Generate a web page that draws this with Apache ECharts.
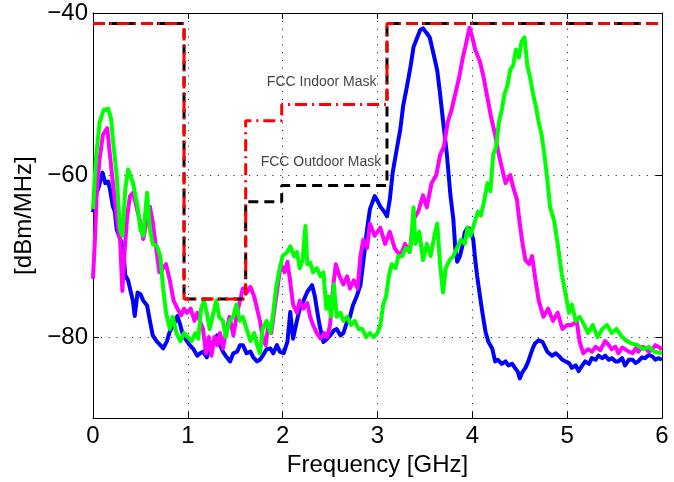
<!DOCTYPE html>
<html><head><meta charset="utf-8">
<script src="https://cdn.jsdelivr.net/npm/echarts@6/dist/echarts.min.js"></script>
<style>html,body{margin:0;padding:0;background:#fff}#c{width:674px;height:482px}</style>
</head><body><div id="c"></div>
<script>
// ---------- data (GHz, dBm/MHz) ----------
const xTicks = [0, 1, 2, 3, 4, 5, 6];
const yTicks = [-80, -60, -40];

const blueSeries = [[0,-64.6],[0.03,-62.5],[0.06,-61.5],[0.1,-59.7],[0.13,-61],[0.16,-60.8],[0.18,-61.8],[0.21,-63.9],[0.23,-64.5],[0.25,-66.7],[0.29,-68],[0.32,-69.1],[0.34,-72.4],[0.37,-73],[0.39,-74],[0.42,-75.5],[0.44,-77.4],[0.47,-74.5],[0.5,-74.7],[0.53,-75.5],[0.57,-76.1],[0.6,-78],[0.63,-79.8],[0.67,-80.5],[0.71,-81.0],[0.74,-81.4],[0.78,-80.5],[0.81,-79.3],[0.85,-78.5],[0.89,-77.4],[0.92,-78.5],[0.95,-79.8],[0.99,-80.5],[1.02,-81],[1.06,-81.5],[1.10,-82.3],[1.13,-82],[1.16,-81.8],[1.2,-82.5],[1.23,-81.4],[1.27,-80.5],[1.31,-79.8],[1.34,-81],[1.37,-81.8],[1.41,-82.5],[1.445,-83],[1.48,-82],[1.52,-81.8],[1.55,-81],[1.58,-81],[1.62,-82],[1.66,-81.8],[1.69,-82.5],[1.73,-83],[1.76,-82.8],[1.79,-82.3],[1.83,-81.5],[1.87,-81.4],[1.90,-82],[1.94,-81],[1.97,-81.8],[2.01,-82],[2.05,-80.6],[2.08,-76.9],[2.11,-80.2],[2.15,-78],[2.18,-76.5],[2.22,-75.5],[2.26,-74.4],[2.31,-73.6],[2.34,-75],[2.36,-76.5],[2.39,-78.6],[2.43,-80.6],[2.47,-80.2],[2.50,-79.8],[2.54,-79.2],[2.57,-79],[2.61,-79.8],[2.64,-79.5],[2.68,-78.1],[2.71,-77.5],[2.74,-76.1],[2.78,-75],[2.82,-73.6],[2.85,-70.7],[2.89,-66.7],[2.92,-64.2],[2.97,-62.6],[3.0,-63.2],[3.03,-63.9],[3.07,-64.5],[3.10,-65.1],[3.13,-63],[3.16,-59.7],[3.20,-57],[3.24,-54.4],[3.27,-51.5],[3.31,-49.1],[3.35,-46.5],[3.38,-44.2],[3.42,-43],[3.45,-42.1],[3.48,-41.9],[3.52,-42.5],[3.55,-43],[3.59,-45],[3.63,-47.1],[3.66,-50],[3.69,-53.2],[3.73,-57.3],[3.77,-62.6],[3.80,-65.5],[3.82,-69],[3.84,-70.7],[3.87,-70],[3.90,-68.5],[3.92,-67.1],[3.95,-66.5],[3.98,-66.7],[4.01,-68],[4.03,-70.4],[4.05,-72.4],[4.08,-74.9],[4.10,-76.5],[4.12,-78],[4.14,-79.4],[4.17,-80.6],[4.21,-81.4],[4.24,-83],[4.27,-82.8],[4.31,-83.3],[4.35,-83],[4.38,-83.5],[4.42,-83.3],[4.45,-83.8],[4.48,-84.3],[4.50,-85.1],[4.53,-84.3],[4.56,-83.8],[4.59,-83],[4.61,-82.3],[4.64,-81.3],[4.66,-80.8],[4.70,-80.4],[4.74,-80.6],[4.77,-81.3],[4.79,-81.8],[4.84,-82.3],[4.88,-82],[4.91,-82.3],[4.95,-82.8],[4.98,-83],[5.02,-83.2],[5.05,-83.8],[5.09,-83.5],[5.12,-84.2],[5.16,-83.5],[5.19,-83],[5.23,-83.3],[5.26,-82.6],[5.30,-82.8],[5.33,-82.3],[5.37,-82.6],[5.40,-82.3],[5.44,-82.8],[5.47,-82.6],[5.51,-83],[5.54,-83],[5.58,-82.6],[5.61,-83.5],[5.65,-82.8],[5.69,-82.8],[5.72,-83.2],[5.75,-83],[5.79,-82.5],[5.82,-82.6],[5.86,-82.2],[5.90,-82.4],[5.93,-82.8],[5.96,-82.6],[6.0,-82.8]];

const magentaSeries = [[0,-72.8],[0.02,-68],[0.04,-62],[0.07,-58],[0.105,-55],[0.15,-54.2],[0.18,-57.7],[0.21,-61],[0.25,-65.1],[0.27,-67],[0.285,-67.9],[0.31,-74.3],[0.33,-70],[0.36,-65.1],[0.39,-62.6],[0.42,-62.2],[0.44,-63],[0.47,-64.5],[0.5,-65.9],[0.53,-67.9],[0.56,-66],[0.6,-63.9],[0.63,-65.8],[0.66,-68.5],[0.7,-72],[0.74,-71.5],[0.77,-71],[0.81,-73],[0.85,-75.5],[0.89,-76.5],[0.93,-77.3],[0.96,-76.5],[0.99,-77],[1.03,-76.5],[1.07,-78],[1.10,-77],[1.13,-78.1],[1.16,-79],[1.19,-82],[1.22,-80],[1.25,-82.3],[1.28,-80],[1.31,-81],[1.34,-79.5],[1.37,-81.4],[1.41,-79],[1.44,-77.5],[1.48,-79.8],[1.52,-77],[1.55,-75.5],[1.58,-74],[1.62,-74.5],[1.66,-73.8],[1.70,-75],[1.73,-76.5],[1.76,-78],[1.79,-80],[1.82,-81],[1.85,-78.5],[1.88,-79.5],[1.92,-76],[1.95,-73.5],[1.98,-71],[2.02,-72],[2.05,-70.7],[2.08,-73.2],[2.11,-76],[2.15,-77],[2.18,-75.5],[2.22,-76.5],[2.26,-75.8],[2.29,-77.5],[2.32,-78.5],[2.36,-79.5],[2.40,-80.2],[2.44,-79.5],[2.47,-80],[2.50,-78.5],[2.53,-74],[2.56,-71],[2.60,-72.5],[2.64,-73.5],[2.68,-72.5],[2.71,-74],[2.75,-73],[2.79,-74],[2.82,-70],[2.85,-68],[2.89,-69],[2.92,-66],[2.97,-67.5],[3.03,-66.5],[3.08,-68.5],[3.13,-67],[3.18,-69],[3.24,-70],[3.29,-68.5],[3.34,-69.5],[3.38,-65.5],[3.43,-64.5],[3.48,-62.5],[3.52,-64],[3.57,-61],[3.62,-60],[3.66,-57.5],[3.70,-56.5],[3.74,-53.5],[3.78,-52],[3.82,-50],[3.86,-48],[3.90,-45.5],[3.93,-44],[3.97,-41.8],[4.0,-43],[4.03,-44.5],[4.08,-46],[4.12,-48],[4.16,-50.5],[4.20,-53],[4.24,-55],[4.28,-57.5],[4.31,-59],[4.35,-61],[4.40,-60],[4.43,-61.5],[4.47,-63],[4.50,-66],[4.53,-68.5],[4.56,-70.5],[4.60,-71],[4.63,-70],[4.66,-72.5],[4.70,-75.5],[4.75,-77.5],[4.80,-76.5],[4.85,-78],[4.90,-77],[4.95,-79],[5.0,-78.5],[5.05,-78.5],[5.10,-78],[5.13,-80.5],[5.17,-82],[5.22,-81.5],[5.26,-81.8],[5.30,-81.2],[5.35,-81.6],[5.40,-80.5],[5.44,-81],[5.47,-81.5],[5.51,-81.2],[5.54,-82],[5.58,-81.3],[5.61,-81.5],[5.65,-81.8],[5.69,-82],[5.72,-81.4],[5.75,-81.8],[5.79,-81.2],[5.82,-81.3],[5.86,-81.8],[5.90,-81.5],[5.93,-81],[5.96,-81.2],[6.0,-81.5]];

const greenSeries = [[0,-64.2],[0.03,-58],[0.07,-53.5],[0.11,-52],[0.16,-51.8],[0.19,-53],[0.21,-55.6],[0.25,-60.1],[0.285,-66.7],[0.31,-67.5],[0.34,-61.8],[0.37,-59.3],[0.42,-60.9],[0.47,-63.9],[0.5,-66.7],[0.53,-67.5],[0.57,-62.2],[0.6,-66.7],[0.63,-68.5],[0.675,-68.8],[0.71,-70],[0.74,-74],[0.77,-77],[0.81,-79],[0.84,-77.5],[0.88,-79.5],[0.92,-80.5],[0.96,-79.5],[1.0,-80],[1.04,-80.5],[1.08,-79.5],[1.11,-80.2],[1.14,-76.5],[1.17,-75.5],[1.2,-77],[1.23,-79],[1.27,-77],[1.3,-75.5],[1.33,-77.5],[1.37,-78],[1.40,-80],[1.44,-78],[1.48,-77.5],[1.51,-76],[1.55,-78],[1.58,-77.5],[1.62,-79],[1.66,-80.5],[1.70,-79.5],[1.73,-81],[1.76,-82],[1.79,-79],[1.83,-78],[1.87,-79.5],[1.9,-77],[1.93,-74],[1.96,-72],[2.0,-70],[2.05,-69.5],[2.08,-68.8],[2.12,-70],[2.15,-69.5],[2.18,-71.5],[2.21,-70.5],[2.24,-66.3],[2.26,-71],[2.29,-70.8],[2.32,-72],[2.36,-71.5],[2.40,-72.5],[2.43,-72],[2.46,-76.5],[2.48,-75],[2.51,-77.5],[2.54,-73.5],[2.57,-77.5],[2.61,-77],[2.64,-78],[2.68,-77.5],[2.72,-78.5],[2.76,-78],[2.80,-79],[2.84,-79],[2.88,-80],[2.92,-79.5],[2.96,-80],[3.0,-79.5],[3.03,-78.5],[3.06,-76],[3.09,-75],[3.12,-72.5],[3.15,-71],[3.19,-71.5],[3.22,-70],[3.26,-70],[3.30,-69],[3.34,-69.5],[3.36,-67.5],[3.38,-64],[3.40,-68.5],[3.44,-67],[3.48,-70.5],[3.52,-68.5],[3.56,-70],[3.60,-67.5],[3.63,-66],[3.66,-71],[3.69,-74.5],[3.72,-71.5],[3.76,-70.5],[3.80,-70],[3.84,-69],[3.88,-68],[3.92,-68.5],[3.95,-66.5],[3.98,-67.5],[4.02,-66],[4.06,-64.5],[4.09,-65],[4.12,-63.5],[4.16,-61],[4.19,-62],[4.22,-57.5],[4.25,-56.5],[4.28,-53.5],[4.31,-52],[4.34,-50],[4.37,-49],[4.40,-47],[4.43,-46.5],[4.46,-44.5],[4.49,-45.5],[4.52,-43.5],[4.55,-43],[4.58,-46.5],[4.61,-48],[4.64,-50],[4.67,-51.5],[4.70,-53.5],[4.73,-55],[4.76,-57.5],[4.79,-60.5],[4.82,-64],[4.86,-65.5],[4.90,-68.5],[4.94,-72],[4.98,-74.5],[5.02,-77],[5.05,-76],[5.09,-78],[5.13,-77.5],[5.18,-78.5],[5.22,-79.5],[5.27,-78.5],[5.32,-80],[5.37,-79],[5.42,-78.5],[5.47,-79.5],[5.52,-79],[5.58,-80],[5.63,-80.5],[5.68,-80.8],[5.74,-81],[5.80,-81.5],[5.86,-81.2],[5.92,-81.8],[6.0,-82]];

const indoorMask = [[0,-41.3],[0.96,-41.3],[0.96,-75.3],[1.61,-75.3],[1.61,-53.3],[1.99,-53.3],[1.99,-51.3],[3.1,-51.3],[3.1,-41.3],[6,-41.3]];
const outdoorMask = [[0,-41.3],[0.96,-41.3],[0.96,-75.3],[1.61,-75.3],[1.61,-63.3],[1.99,-63.3],[1.99,-61.3],[3.1,-61.3],[3.1,-41.3],[6,-41.3]];

const annotations = [[2.99,-48.5,'FCC Indoor Mask'],[3.04,-58.4,'FCC Outdoor Mask']];

// ---------- chart ----------
const FONT = '"Liberation Sans", Arial, Helvetica, sans-serif';
const minus = v => String(v).replace('-', '\u2212');
const chart = echarts.init(document.getElementById('c'), null, {renderer: 'canvas'});

const axisLineStyle = {show: true, onZero: false, lineStyle: {color: '#000', width: 1}};
const gridLine = {show: true, lineStyle: {color: '#333', width: 1, type: [1.2, 6.6]}};

const curve = (name, data, color) => ({
  type: 'line', name, data, symbol: 'none', showSymbol: false, z: 2,
  lineStyle: {color, width: 4, join: 'round'}
});

chart.setOption({
  animation: false,
  backgroundColor: '#fff',
  grid: {left: 93, top: 13, width: 569, height: 407, containLabel: false},
  xAxis: [
    {type: 'value', min: xTicks[0], max: xTicks[xTicks.length - 1], interval: 1, position: 'bottom',
     name: 'Frequency [GHz]', nameLocation: 'middle', nameGap: 33,
     nameTextStyle: {fontSize: 24, color: '#000', fontFamily: FONT},
     axisLine: axisLineStyle,
     axisTick: {show: true, inside: true, length: 6, lineStyle: {color: '#000'}},
     axisLabel: {fontSize: 24, color: '#000', fontFamily: FONT, margin: 6},
     splitLine: gridLine},
    {type: 'value', min: xTicks[0], max: xTicks[xTicks.length - 1], interval: 1, position: 'top',
     axisLine: axisLineStyle,
     axisTick: {show: true, inside: true, length: 6, lineStyle: {color: '#000'}},
     axisLabel: {show: false}, splitLine: {show: false}}
  ],
  yAxis: [
    {type: 'value', min: -90, max: -40, interval: 10, position: 'left',
     name: '[dBm/MHz]', nameLocation: 'middle', nameGap: 52,
     nameTextStyle: {fontSize: 24, color: '#000', fontFamily: FONT},
     axisLine: axisLineStyle,
     axisTick: {show: true, inside: true, length: 6, lineStyle: {color: '#000'}, customValues: yTicks},
     axisLabel: {fontSize: 24, color: '#000', fontFamily: FONT, margin: 5, customValues: yTicks, formatter: minus},
     splitLine: gridLine},
    {type: 'value', min: -90, max: -40, interval: 10, position: 'right',
     axisLine: axisLineStyle,
     axisTick: {show: true, inside: true, length: 6, lineStyle: {color: '#000'}, customValues: yTicks},
     axisLabel: {show: false, customValues: yTicks}, splitLine: {show: false}}
  ],
  series: [
    curve('blue', blueSeries, '#0000ff'),
    curve('magenta', magentaSeries, '#ff00ff'),
    curve('green', greenSeries, '#00ff00'),
    {type: 'line', name: 'FCC Outdoor Mask', data: outdoorMask, symbol: 'none', z: 3,
     lineStyle: {color: '#000', width: 3, type: [10, 6], cap: 'butt'}},
    {type: 'line', name: 'FCC Indoor Mask', data: indoorMask, symbol: 'none', z: 4,
     lineStyle: {color: '#ff0000', width: 3, type: [12, 5, 2, 5], cap: 'butt'}},
    {type: 'scatter', name: 'labels', data: annotations, symbolSize: 0, z: 5,
     label: {show: true, position: 'left', distance: 0, fontSize: 14, color: '#111', fontFamily: FONT,
             formatter: p => p.value[2]}}
  ]
});
</script>
</body></html>
